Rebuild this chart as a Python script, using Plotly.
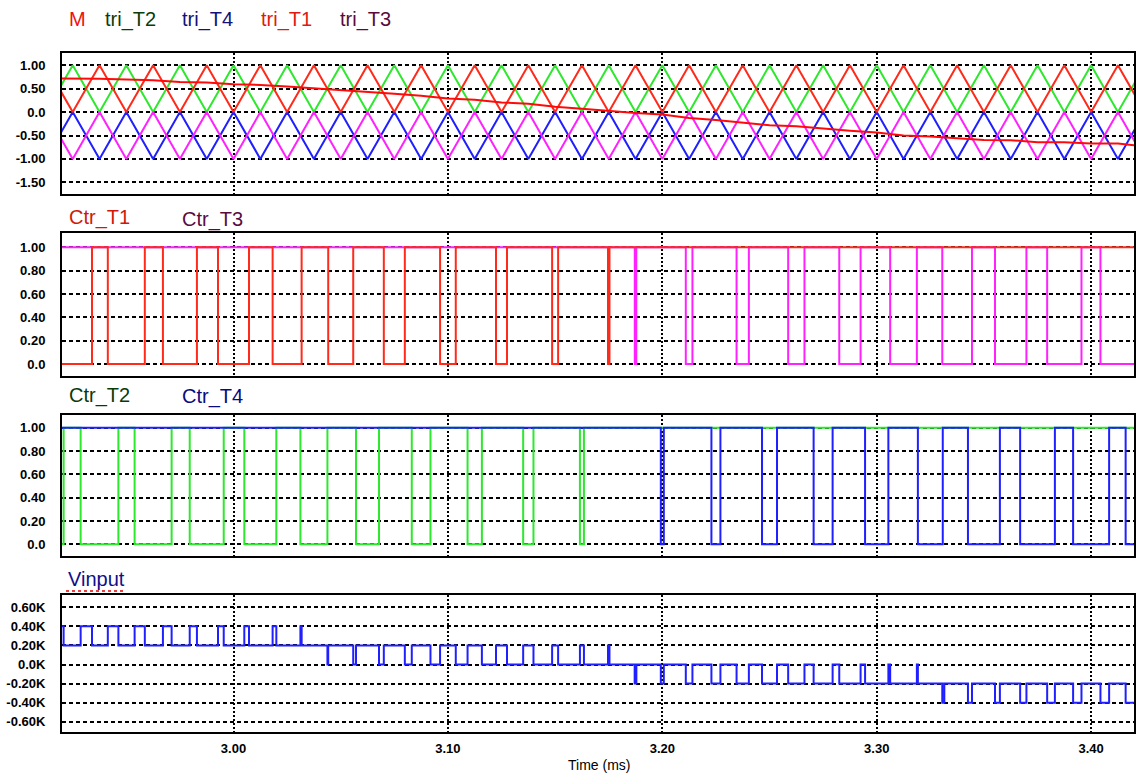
import plotly.graph_objects as go

# ---------------- data (time in ms) ----------------
T_START, T_END = 2.92, 3.42

# carrier vertex times and values
tri_t = [2.9125, 2.925, 2.9375, 2.95, 2.9625, 2.975, 2.9875, 3.0, 3.0125, 3.025,
         3.0375, 3.05, 3.0625, 3.075, 3.0875, 3.1, 3.1125, 3.125, 3.1375, 3.15,
         3.1625, 3.175, 3.1875, 3.2, 3.2125, 3.225, 3.2375, 3.25, 3.2625, 3.275,
         3.2875, 3.3, 3.3125, 3.325, 3.3375, 3.35, 3.3625, 3.375, 3.3875, 3.4,
         3.4125, 3.425]
tri_T2 = [0, 1, 0, 1, 0, 1, 0, 1, 0, 1, 0, 1, 0, 1, 0, 1, 0, 1, 0, 1, 0,
          1, 0, 1, 0, 1, 0, 1, 0, 1, 0, 1, 0, 1, 0, 1, 0, 1, 0, 1, 0, 1]
tri_T1 = [1, 0, 1, 0, 1, 0, 1, 0, 1, 0, 1, 0, 1, 0, 1, 0, 1, 0, 1, 0, 1,
          0, 1, 0, 1, 0, 1, 0, 1, 0, 1, 0, 1, 0, 1, 0, 1, 0, 1, 0, 1, 0]
tri_T4 = [-1, 0, -1, 0, -1, 0, -1, 0, -1, 0, -1, 0, -1, 0, -1, 0, -1, 0, -1, 0, -1,
          0, -1, 0, -1, 0, -1, 0, -1, 0, -1, 0, -1, 0, -1, 0, -1, 0, -1, 0, -1, 0]
tri_T3 = [0, -1, 0, -1, 0, -1, 0, -1, 0, -1, 0, -1, 0, -1, 0, -1, 0, -1, 0, -1, 0,
          -1, 0, -1, 0, -1, 0, -1, 0, -1, 0, -1, 0, -1, 0, -1, 0, -1, 0, -1, 0, -1]

# modulating signal M
m_t = [2.92, 2.925, 2.9375, 2.95, 2.9625, 2.975, 2.9875, 3.0, 3.0125, 3.025,
       3.0375, 3.05, 3.0625, 3.075, 3.0875, 3.1, 3.1125, 3.125, 3.1375, 3.15,
       3.1625, 3.175, 3.1875, 3.2, 3.2125, 3.225, 3.2375, 3.25, 3.2625, 3.275,
       3.2875, 3.3, 3.3125, 3.325, 3.3375, 3.35, 3.3625, 3.375, 3.3875, 3.4,
       3.4125, 3.42]
m_v = [0.72, 0.72, 0.715, 0.695, 0.68, 0.645, 0.63, 0.595, 0.58, 0.545,
       0.51, 0.47, 0.435, 0.39, 0.348, 0.293, 0.262, 0.205, 0.18, 0.112,
       0.07, 0.02, -0.02, -0.05, -0.125, -0.17, -0.23, -0.28, -0.305, -0.355,
       -0.40, -0.435, -0.50, -0.52, -0.555, -0.595, -0.60, -0.645, -0.645, -0.67,
       -0.67, -0.71]

# gate signals: low pulses (centre, width) on a high (1) base
ctr_T1_low_c = [2.925, 2.95, 2.975, 3.0, 3.025, 3.05, 3.075, 3.1, 3.125, 3.15, 3.175]
ctr_T1_low_w = [0.0180, 0.01726, 0.01586, 0.01446, 0.01353, 0.01166, 0.0098,
                0.00732, 0.00513, 0.0028, 0.0007]
ctr_T3_low_c = [3.1875, 3.2125, 3.2375, 3.2625, 3.2875, 3.3125, 3.3375, 3.3625,
                3.3875, 3.4125]
ctr_T3_low_w = [0.0007, 0.0031, 0.00574, 0.0076, 0.00994, 0.01245, 0.01385,
                0.01465, 0.016, 0.0163]
ctr_T2_low_c = [2.9125, 2.9375, 2.9625, 2.9875, 3.0125, 3.0375, 3.0625, 3.0875,
                3.1125, 3.1375, 3.1625]
ctr_T2_low_w = [0.0165, 0.0176, 0.01726, 0.01586, 0.01493, 0.0126, 0.01073,
                0.00872, 0.00668, 0.0048, 0.00187]
ctr_T4_low_c = [3.2, 3.225, 3.25, 3.275, 3.3, 3.325, 3.35, 3.375, 3.4, 3.425]
ctr_T4_low_w = [0.0014, 0.0042, 0.0070, 0.00886, 0.01087, 0.01160, 0.0149,
                0.0162, 0.0168, 0.0178]

# Vinput: level change times and new level (V)
vin_t = [2.92, 2.92075, 2.9287, 2.934, 2.94137, 2.9463, 2.95387, 2.95863, 2.96707,
         2.97113, 2.97957, 2.98293, 2.99277, 2.99543, 3.00503, 3.00723, 3.01823,
         3.01997, 3.0312, 3.03177, 3.0438, 3.04417, 3.05583, 3.05714, 3.06787,
         3.0701, 3.0799, 3.08314, 3.09186, 3.09634, 3.10366, 3.10916, 3.11584,
         3.12244, 3.12757, 3.1351, 3.1399, 3.1486, 3.1514, 3.16157, 3.16344,
         3.17465, 3.17535, 3.1871, 3.1879, 3.1993, 3.2007, 3.21095, 3.21405,
         3.2229, 3.2271, 3.23463, 3.24037, 3.2465, 3.2535, 3.2587, 3.2663,
         3.27057, 3.27943, 3.28253, 3.29247, 3.29457, 3.30544, 3.30628, 3.31873,
         3.3192, 3.33058, 3.33153, 3.34255, 3.34443, 3.35518, 3.35745, 3.3669,
         3.36983, 3.3795, 3.3831, 3.3916, 3.3955, 3.40435, 3.4084, 3.4161, 3.42]
vin_v = [400, 200, 400, 200, 400, 200, 400, 200, 400,
         200, 400, 200, 400, 200, 400, 200, 400,
         200, 400, 200, 0, 200, 0, 200, 0,
         200, 0, 200, 0, 200, 0, 200, 0,
         200, 0, 200, 0, 200, 0, 200, 0,
         200, 0, -200, 0, -200, 0, -200, 0,
         -200, 0, -200, 0, -200, 0, -200, 0,
         -200, 0, -200, 0, -200, 0, -200, 0,
         -200, -400, -200, -400, -200, -400, -200, -400,
         -200, -400, -200, -400, -200, -400, -200, -400, -400]

# tick labels
y1_ticks = [1.0, 0.5, 0.0, -0.5, -1.0, -1.5]
y1_text = ["1.00", "0.50", "0.0", "-0.50", "-1.00", "-1.50"]
y23_ticks = [1.0, 0.8, 0.6, 0.4, 0.2, 0.0]
y23_text = ["1.00", "0.80", "0.60", "0.40", "0.20", "0.0"]
y4_ticks = [600, 400, 200, 0, -200, -400, -600]
y4_text = ["0.60K", "0.40K", "0.20K", "0.0K", "-0.20K", "-0.40K", "-0.60K"]
x_ticks = [3.0, 3.1, 3.2, 3.3, 3.4]
x_text = ["3.00", "3.10", "3.20", "3.30", "3.40"]


def pulse_steps(centres, widths, base, low, t0, t1):
    inside = any(c - w / 2 <= t0 < c + w / 2 for c, w in zip(centres, widths))
    ts, vs = [t0], [low if inside else base]
    for c, w in zip(centres, widths):
        a, b = c - w / 2, c + w / 2
        if b <= t0 or a >= t1:
            continue
        if a > t0:
            ts.append(a); vs.append(low)
        if b < t1:
            ts.append(b); vs.append(base)
    ts.append(t1); vs.append(vs[-1])
    return ts, vs


W, H = 1139, 775
px = lambda x: x / W
py = lambda y: 1 - y / H

fig = go.Figure()

RED = "#ff2a1a"; GREEN = "#2ee82e"; BLUE = "#1f1fff"; MAG = "#ff22ff"

# panel 1
fig.add_trace(go.Scatter(x=tri_t, y=tri_T2, mode="lines", line=dict(color=GREEN, width=2), xaxis="x", yaxis="y"))
fig.add_trace(go.Scatter(x=tri_t, y=tri_T4, mode="lines", line=dict(color=BLUE, width=2), xaxis="x", yaxis="y"))
fig.add_trace(go.Scatter(x=tri_t, y=tri_T1, mode="lines", line=dict(color=RED, width=2), xaxis="x", yaxis="y"))
fig.add_trace(go.Scatter(x=tri_t, y=tri_T3, mode="lines", line=dict(color=MAG, width=2), xaxis="x", yaxis="y"))
fig.add_trace(go.Scatter(x=m_t, y=m_v, mode="lines", line=dict(color="#ff0a0a", width=2), xaxis="x", yaxis="y"))

# panel 2
t3, v3 = pulse_steps(ctr_T3_low_c, ctr_T3_low_w, 1, 0, T_START, T_END)
t1, v1 = pulse_steps(ctr_T1_low_c, ctr_T1_low_w, 1, 0, T_START, T_END)
fig.add_trace(go.Scatter(x=t3, y=v3, mode="lines", line=dict(color=MAG, width=2, shape="hv"), xaxis="x2", yaxis="y2"))
fig.add_trace(go.Scatter(x=t1, y=v1, mode="lines", line=dict(color=RED, width=2, shape="hv"), xaxis="x2", yaxis="y2"))

# panel 3
t2, v2 = pulse_steps(ctr_T2_low_c, ctr_T2_low_w, 1, 0, T_START, T_END)
t4, v4 = pulse_steps(ctr_T4_low_c, ctr_T4_low_w, 1, 0, T_START, T_END)
fig.add_trace(go.Scatter(x=t2, y=v2, mode="lines", line=dict(color=GREEN, width=2, shape="hv"), xaxis="x3", yaxis="y3"))
fig.add_trace(go.Scatter(x=t4, y=v4, mode="lines", line=dict(color=BLUE, width=2, shape="hv"), xaxis="x3", yaxis="y3"))

# panel 4
fig.add_trace(go.Scatter(x=vin_t, y=vin_v, mode="lines", line=dict(color=BLUE, width=2, shape="hv"), xaxis="x4", yaxis="y4"))

TICKFONT = dict(family="Liberation Sans, Arial", size=13, color="black", weight="bold")
xdom = [px(62), px(1134)]
ydoms = [[py(194.3), py(53.3)], [py(375.7), py(233.3)], [py(556), py(415)], [py(732.3), py(595)]]
yranges = [[-1.756, 1.256], [-0.10, 1.12], [-0.10, 1.11], [-711, 729]]
ytv = [(y1_ticks, y1_text), (y23_ticks, y23_text), (y23_ticks, y23_text), (y4_ticks, y4_text)]

layout = dict(width=W, height=H, margin=dict(l=0, r=0, t=0, b=0),
              paper_bgcolor="white", plot_bgcolor="white", showlegend=False)
for i in range(4):
    sx = "" if i == 0 else str(i + 1)
    layout["xaxis" + sx] = dict(
        domain=xdom, range=[T_START, T_END], anchor="y" + sx,
        showline=True, linecolor="black", linewidth=2, mirror=True,
        showgrid=True, gridcolor="#000000", griddash="2px,2px", gridwidth=1.8,
        zeroline=False, tickvals=x_ticks, ticktext=x_text, ticks="",
        showticklabels=(i == 3), tickfont=TICKFONT, ticklabelstandoff=3,
        fixedrange=True)
    layout["yaxis" + sx] = dict(
        domain=ydoms[i], range=yranges[i], anchor="x" + sx,
        showline=True, linecolor="black", linewidth=2, mirror=True,
        showgrid=True, gridcolor="#000000", griddash="4px,3px", gridwidth=1.5,
        zeroline=False, tickvals=ytv[i][0], ticktext=ytv[i][1], ticks="",
        tickfont=TICKFONT, ticklabelstandoff=12, fixedrange=True)
fig.update_layout(**layout)

LBL = "Liberation Sans, Arial"
labels = [
    ("M", 67, 19, "#f01010"), ("tri_T2", 103, 19, "#0a3d0a"), ("tri_T4", 180, 19, "#12127a"),
    ("tri_T1", 259, 19, "#e01a10"), ("tri_T3", 338, 20, "#5a0a3a"),
    ("Ctr_T1", 67, 218, "#d01808"), ("Ctr_T3", 180, 219, "#5a0a40"),
    ("Ctr_T2", 67, 395, "#0a3a0a"), ("Ctr_T4", 180, 396, "#0a0a80"),
    ("Vinput", 66, 579, "#10108a"),
]
for txt, x, y, col in labels:
    fig.add_annotation(text=txt, x=px(x), y=py(y), xref="paper", yref="paper",
                       xanchor="left", yanchor="middle", showarrow=False,
                       font=dict(family=LBL, size=20, color=col))
fig.add_annotation(text="Time (ms)", x=px(599), y=py(765), xref="paper", yref="paper",
                   xanchor="center", yanchor="middle", showarrow=False,
                   font=dict(family="Liberation Sans, Arial", size=14, color="black"))
fig.add_shape(type="line", xref="paper", yref="paper", x0=px(66), x1=px(124),
              y0=py(591), y1=py(591), line=dict(color="#e00000", width=1.5, dash="dot"))

fig.write_html("out.html")
